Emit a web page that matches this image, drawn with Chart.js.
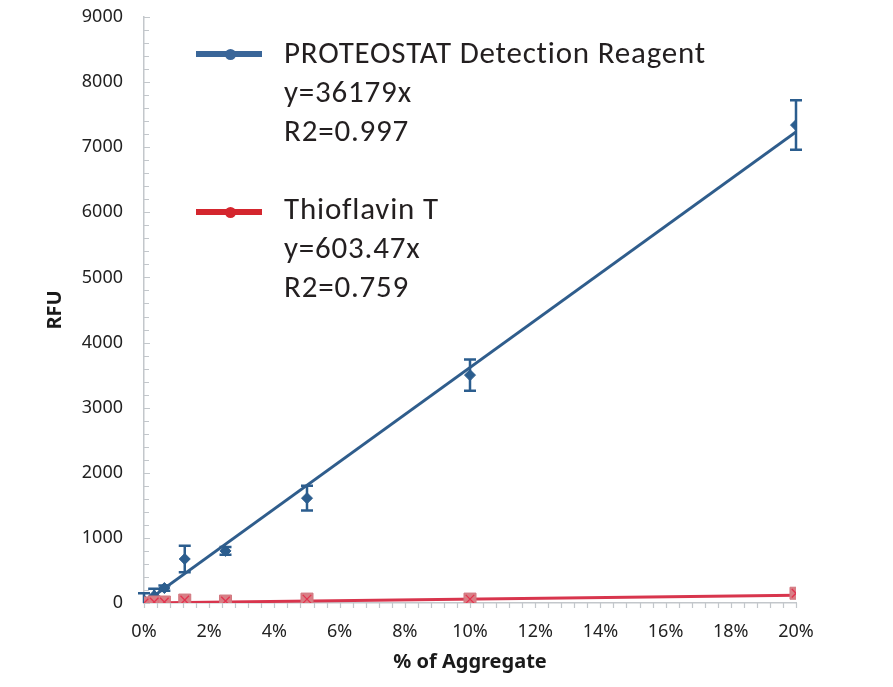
<!DOCTYPE html>
<html>
<head>
<meta charset="utf-8">
<script src="https://cdn.jsdelivr.net/npm/chart.js@4.4.1/dist/chart.umd.min.js"></script>
<style>
  html, body { margin: 0; padding: 0; background: #fff; }
  #wrap { position: relative; width: 893px; height: 687px; }
  #c { position: absolute; left: 0; top: 0; }
  .leg { position: absolute; font-family: Carlito, Lato, "Open Sans", sans-serif; font-size: 31px; letter-spacing: 0.8px; color: #231f20; line-height: 39px; white-space: nowrap; }
  .sw { position: absolute; height: 6px; width: 66px; }
  .dot { position: absolute; width: 11px; height: 11px; border-radius: 50%; }
</style>
</head>
<body>
<div id="wrap">
  <canvas id="c" width="893" height="687"></canvas>
  <div class="sw" style="left:196px;top:51px;background:#3a6699"></div>
  <div class="dot" style="left:224.5px;top:48.5px;background:#3a6699"></div>
  <div class="leg" style="left:284px;top:32.5px">PROTEOSTAT Detection Reagent<br>y=36179x<br>R2=0.997</div>
  <div class="sw" style="left:196px;top:209px;background:#d4262e"></div>
  <div class="dot" style="left:224.5px;top:206.5px;background:#d4262e"></div>
  <div class="leg" style="left:284px;top:188.5px">Thioflavin T<br>y=603.47x<br>R2=0.759</div>
</div>
<script>
// Data
const aggregatePct = [0, 0.3125, 0.625, 1.25, 2.5, 5, 10, 20];
const proteostatRFU = [40, 110, 230, 676, 800, 1610, 3500, 7340];
const proteostatErr = [110, 110, 40, 205, 60, 190, 240, 380];
const thioflavinRFU = [0, 15, 15, 45, 30, 60, 60, 150];
const proteostatSlope = 36179;   // y = slope * fraction
const thioflavinSlope = 603.47;
const xTickLabels = ['0%','2%','4%','6%','8%','10%','12%','14%','16%','18%','20%'];
const yTickLabels = ['0','1000','2000','3000','4000','5000','6000','7000','8000','9000'];

const BLUE = '#2b5d8e';
const RED = '#d8354d';

const toPts = (ys) => aggregatePct.map((x, i) => ({ x: x, y: ys[i] }));
const trend = (slope) => [
  { x: aggregatePct[0], y: slope * aggregatePct[0] / 100 },
  { x: aggregatePct[aggregatePct.length - 1], y: slope * aggregatePct[aggregatePct.length - 1] / 100 }
];

const errorBars = {
  id: 'errorBars',
  beforeDatasetsDraw(chart) {
    const ctx = chart.ctx, xs = chart.scales.x, ys = chart.scales.y, a = chart.chartArea;
    ctx.save();
    ctx.beginPath();
    ctx.rect(a.left - 10, a.top - 10, a.right - a.left + 20, a.bottom - a.top + 10);
    ctx.clip();
    ctx.strokeStyle = BLUE;
    ctx.lineWidth = 2.5;
    aggregatePct.forEach((x, i) => {
      const px = xs.getPixelForValue(x);
      const top = ys.getPixelForValue(proteostatRFU[i] + proteostatErr[i]);
      const bot = ys.getPixelForValue(proteostatRFU[i] - proteostatErr[i]);
      ctx.beginPath();
      ctx.moveTo(px, top); ctx.lineTo(px, bot);
      ctx.moveTo(px - 6, top); ctx.lineTo(px + 6, top);
      ctx.moveTo(px - 6, bot); ctx.lineTo(px + 6, bot);
      ctx.stroke();
    });
    ctx.restore();
  }
};

const minorTicks = {
  id: 'minorTicks',
  afterDraw(chart) {
    const ctx = chart.ctx, xs = chart.scales.x, ys = chart.scales.y, a = chart.chartArea;
    ctx.save();
    ctx.strokeStyle = '#c3c7cb';
    ctx.lineWidth = 1.2;
    ctx.beginPath();
    for (let v = 0; v <= 9000 + 1e-6; v += 200) {
      const py = Math.round(ys.getPixelForValue(v)) + 0.5;
      ctx.moveTo(a.left, py); ctx.lineTo(a.left + (v % 1000 === 0 ? 6 : 5), py);
    }
    for (let k = 0; k <= 50; k++) {
      const px = Math.round(xs.getPixelForValue(k * 0.4)) + 0.5;
      ctx.moveTo(px, a.bottom); ctx.lineTo(px, a.bottom + 5);
    }
    ctx.stroke();
    ctx.restore();
  }
};

const tickFont = { family: '"Noto Sans", "Open Sans", sans-serif', size: 18 };
const titleFont = { family: '"Noto Sans", "Open Sans", sans-serif', size: 20, weight: 'bold' };

new Chart(document.getElementById('c'), {
  type: 'scatter',
  data: {
    datasets: [
      { type: 'line', data: trend(proteostatSlope), borderColor: '#2f5d8c', borderWidth: 3, pointRadius: 0, order: 4 },
      { type: 'line', data: trend(thioflavinSlope), borderColor: RED, borderWidth: 3, pointRadius: 0, order: 3 },
      { data: toPts(proteostatRFU), pointStyle: 'rectRot', pointRadius: 5.5, backgroundColor: BLUE, borderColor: BLUE, borderWidth: 1, order: 2 },
      { data: toPts(thioflavinRFU), pointStyle: 'rect', pointRadius: 8.5, backgroundColor: '#d97e85', borderColor: '#d27880', borderWidth: 1, order: 1 },
      { data: toPts(thioflavinRFU), pointStyle: 'crossRot', pointRadius: 6, borderColor: '#e2334f', borderWidth: 1.3, order: 0 }
    ]
  },
  options: {
    responsive: false,
    animation: false,
    events: [],
    layout: { padding: { top: 17, right: 97, left: 0, bottom: 0 } },
    plugins: { legend: { display: false }, tooltip: { enabled: false } },
    scales: {
      x: {
        type: 'linear', min: 0, max: 20,
        ticks: { stepSize: 2, padding: 18, color: '#222', font: tickFont,
                 callback: (v) => xTickLabels[Math.round(v / 2)] },
        grid: { display: false, drawTicks: false },
        border: { display: true, color: '#c3c7cb', width: 1.5 },
        title: { display: true, text: '% of Aggregate', color: '#1a1a1a', font: titleFont, padding: { top: 0, bottom: 13 } },
        afterFit: (s) => { s.height = 84; s.paddingLeft = 0; s.paddingRight = 0; }
      },
      y: {
        min: 0, max: 9000,
        ticks: { stepSize: 1000, padding: 21, color: '#222', font: tickFont,
                 callback: (v) => yTickLabels[Math.round(v / 1000)] },
        grid: { display: false, drawTicks: false },
        border: { display: true, color: '#c3c7cb', width: 1.5 },
        title: { display: true, text: 'RFU', color: '#1a1a1a', font: titleFont, padding: { top: 43, bottom: 0 } },
        afterFit: (s) => { s.width = 144; s.paddingTop = 0; s.paddingBottom = 0; }
      }
    }
  },
  plugins: [errorBars, minorTicks]
});
</script>
</body>
</html>
